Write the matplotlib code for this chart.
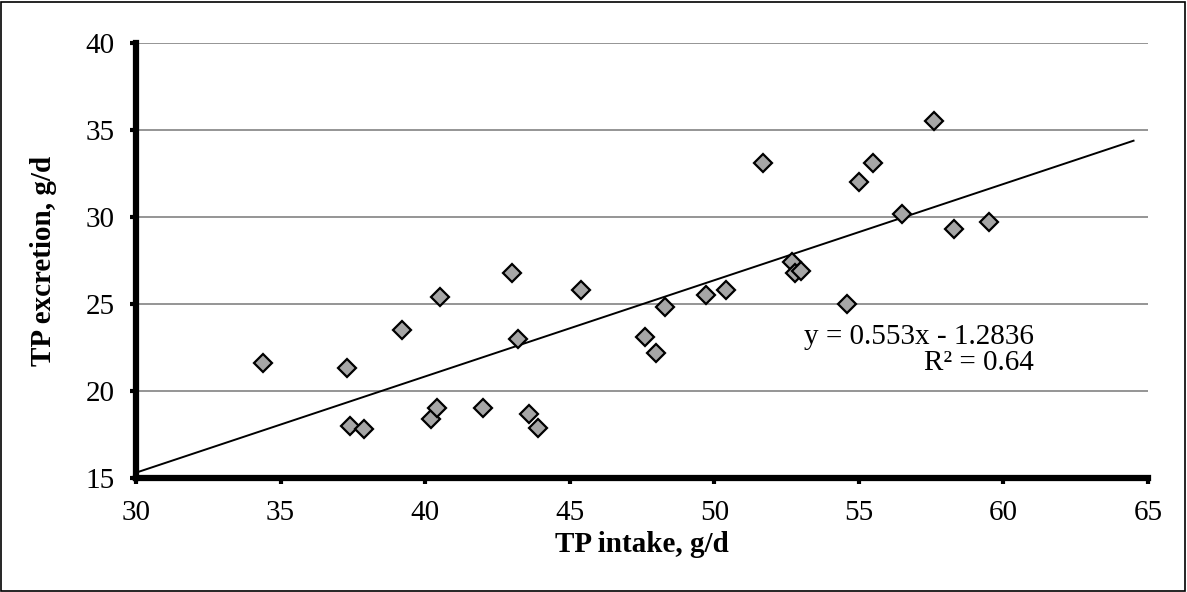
import matplotlib
matplotlib.use('Agg')
import matplotlib.pyplot as plt
import numpy as np
from matplotlib.patches import Rectangle

plt.rcParams['font.family'] = ['Liberation Serif', 'DejaVu Serif']

# TP intake vs TP excretion, g/d
tp_intake = [34.4, 37.3, 37.4, 37.9, 39.2, 40.2, 40.4, 40.5, 42.0, 43.0,
             43.2, 43.6, 43.9, 45.4, 47.6, 48.0, 48.3, 49.7, 50.4, 51.7,
             52.7, 52.8, 53.0, 54.6, 55.0, 55.5, 56.5, 57.6, 58.3, 59.5]
tp_excretion = [21.6, 21.3, 18.0, 17.8, 23.5, 18.4, 19.0, 25.4, 19.0, 26.8,
                23.0, 18.7, 17.9, 25.8, 23.1, 22.2, 24.8, 25.5, 25.8, 33.1,
                27.4, 26.8, 26.9, 25.0, 32.0, 33.1, 30.2, 35.5, 29.3, 29.7]

slope = 0.553
intercept = -1.2836
r2 = 0.64
trend_x = [30, 64.5]

W, H = 1187, 592
fig = plt.figure(figsize=(W / 100, H / 100), dpi=100)
ax = fig.add_axes([136 / W, 1 - 478 / H, (1148 - 136) / W, (478 - 43) / H])

ax.set_xlim(30, 65)
ax.set_ylim(15, 40)
ax.set_xticks(np.arange(30, 66, 5))
ax.set_yticks(np.arange(15, 41, 5))

ax.grid(axis='y', color='#8c8c8c', linewidth=1.3)
ax.set_axisbelow(True)

tx = np.array(trend_x)
ax.plot(tx, slope * tx + intercept, color='black', linewidth=1.4, zorder=2)
ax.plot(tp_intake, tp_excretion, linestyle='none', marker='D', markersize=9.3,
        markerfacecolor='#a6a6a6', markeredgecolor='black', markeredgewidth=1.6,
        zorder=3, clip_on=False)

ax.text(61.05, 23.1, 'y = 0.553x - 1.2836', ha='right', va='center', fontsize=21)
ax.text(61.05, 21.6, 'R² = 0.64', ha='right', va='center', fontsize=21)

for s in ['top', 'right']:
    ax.spines[s].set_visible(False)
for s in ['left', 'bottom']:
    ax.spines[s].set_linewidth(4.5)
    ax.spines[s].set_capstyle('projecting')
ax.tick_params(direction='out', length=4.5, width=3, labelsize=21, pad=11)

ax.set_xlabel('TP intake, g/d', fontsize=21, fontweight='bold', labelpad=4)
ax.set_ylabel('TP excretion, g/d', fontsize=21, fontweight='bold', labelpad=20)

fig.patches.append(Rectangle((1 / W, 1 / H), 1 - 3 / W, 1 - 3 / H,
                             transform=fig.transFigure, fill=False,
                             edgecolor='black', linewidth=1.2))

fig.savefig('out.png', dpi=100)
